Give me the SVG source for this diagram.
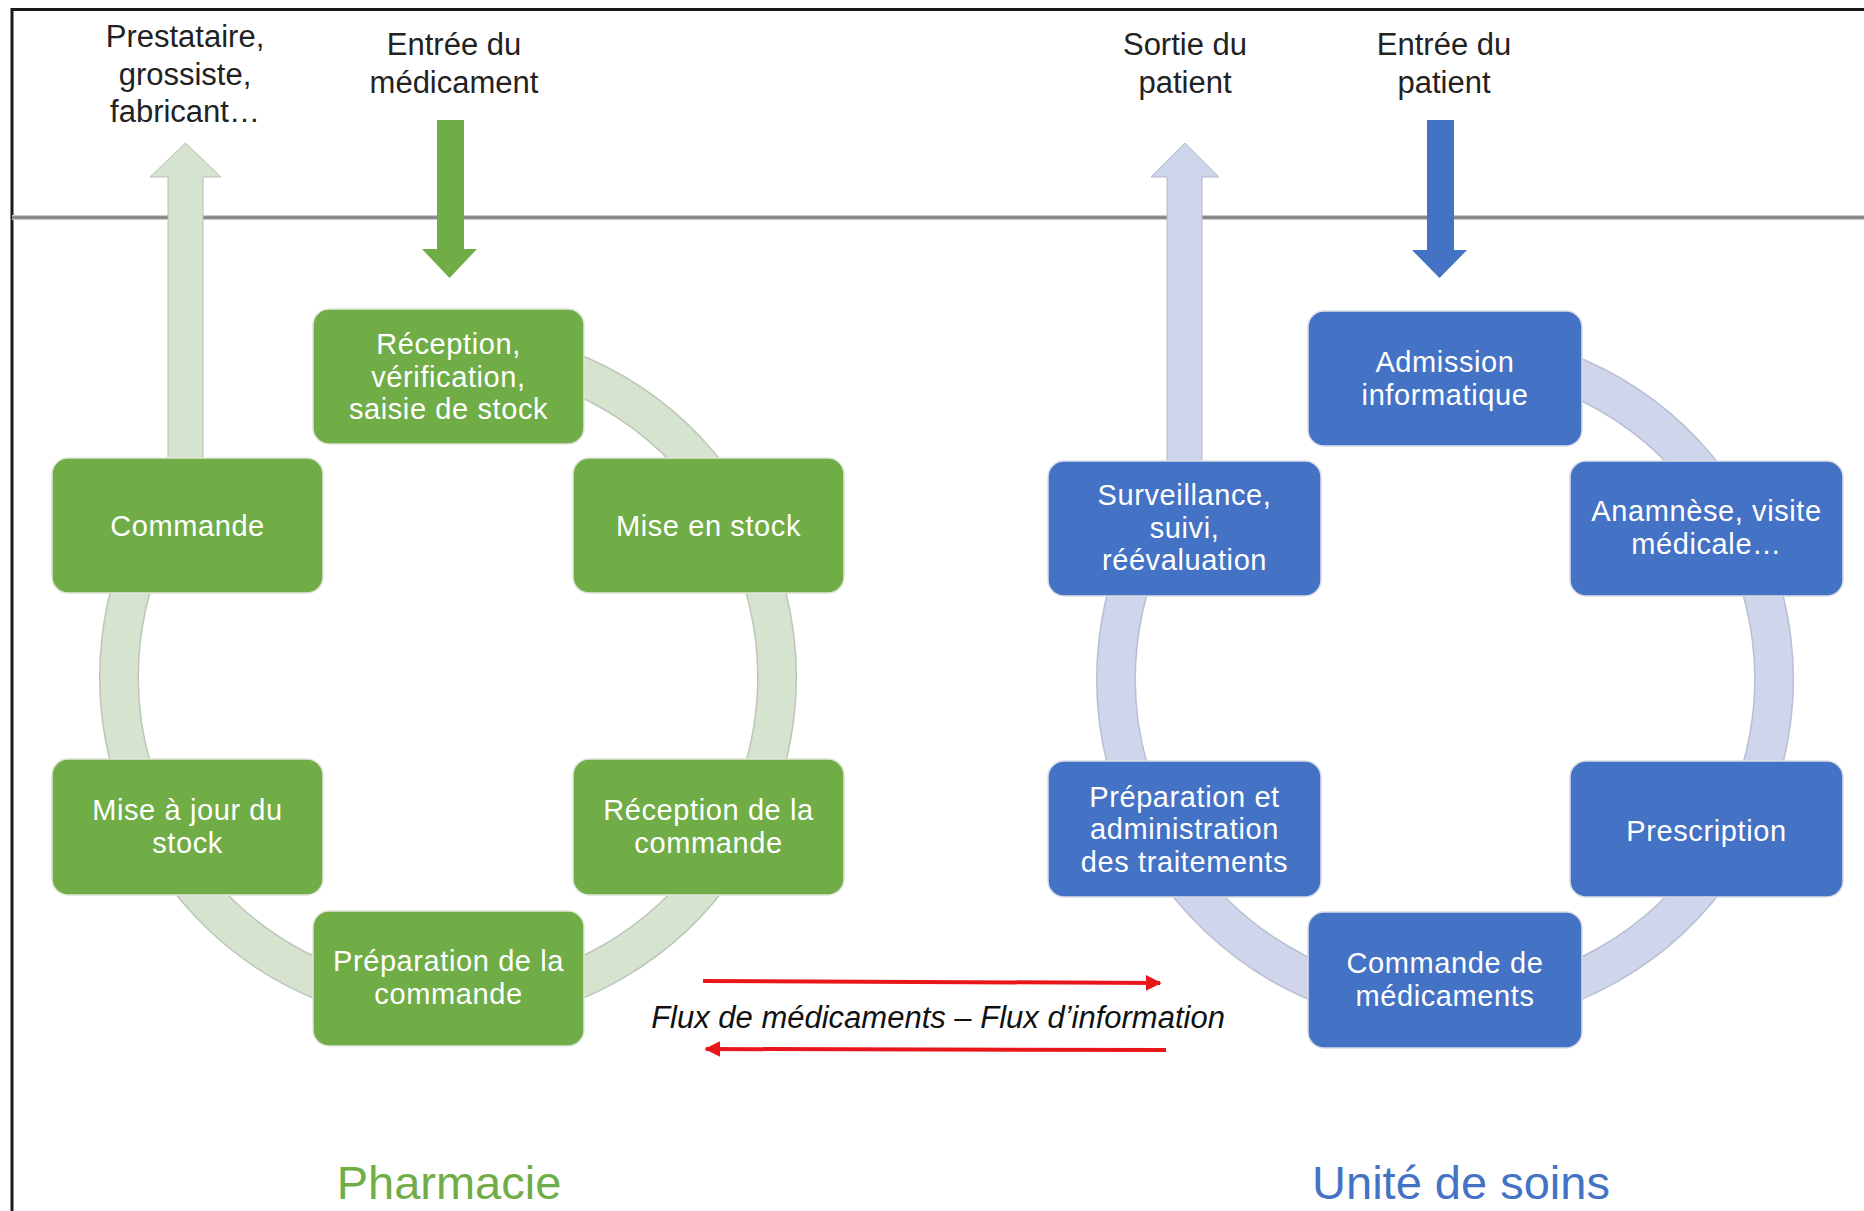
<svg xmlns="http://www.w3.org/2000/svg" width="1864" height="1211" viewBox="0 0 1864 1211">
<defs>
<style>
.lbl{font-family:"Liberation Sans",Arial,sans-serif;font-size:31px;fill:#222;text-anchor:middle}
.nt{font-family:"Liberation Sans",Arial,sans-serif;font-size:29px;letter-spacing:0.6px;fill:#fff;text-anchor:middle}
.gn{fill:#70ad47;stroke:#dfe6da;stroke-width:1.5}
.bn{fill:#4472c4;stroke:#d9dde8;stroke-width:1.5}
.ttl{font-family:"Liberation Sans",Arial,sans-serif;font-size:47px;text-anchor:middle}
.flux{font-family:"Liberation Sans",Arial,sans-serif;font-size:31px;font-style:italic;fill:#111;text-anchor:middle}
</style>
<marker id="rh" viewBox="0 0 10 10" refX="9" refY="5" markerWidth="4" markerHeight="4" orient="auto" markerUnits="strokeWidth">
<path d="M0,0 L10,5 L0,10 z" fill="#e8151b"/>
</marker>
</defs>
<rect width="1864" height="1211" fill="#fff"/>
<path d="M12,1211 V9.5 H1864" fill="none" stroke="#1a1a1a" stroke-width="3"/>
<line x1="12" y1="217.5" x2="1864" y2="217.5" stroke="#c8c8c8" stroke-width="5"/>
<line x1="12" y1="217.5" x2="1864" y2="217.5" stroke="#7f7f7f" stroke-width="2.5"/>

<g id="connectors">
<path d="M448,348 A329,329 0 1 1 163.1,512.5" fill="none" stroke="#bcc7b6" stroke-width="40"/>
<path d="M448,348 A329,329 0 1 1 163.1,512.5" fill="none" stroke="#d6e3cf" stroke-width="37"/>
<path d="M1445,350 A329,329 0 1 1 1160.1,514.5" fill="none" stroke="#b9bfd3" stroke-width="40"/>
<path d="M1445,350 A329,329 0 1 1 1160.1,514.5" fill="none" stroke="#cfd5ea" stroke-width="37"/>
<path d="M168,470 V177 H150 L185.5,143 L221,177 H203 V470 z" fill="#d6e3cf" stroke="#b5c1ae" stroke-width="1"/>
<path d="M1167,470 V177 H1151 L1185,143 L1219,177 H1202 V470 z" fill="#cfd5ea" stroke="#b1b8cd" stroke-width="1"/>
<path d="M437,120 H464 V249 H477 L449.5,278 L422,249 H437 z" fill="#70ad47"/>
<path d="M1427,120 H1454 V250 H1467 L1439.5,278 L1412,250 H1427 z" fill="#4472c4"/>
<line x1="703" y1="981" x2="1160" y2="983" stroke="#e8151b" stroke-width="4" marker-end="url(#rh)"/>
<line x1="1166" y1="1050" x2="706" y2="1049" stroke="#e8151b" stroke-width="4" marker-end="url(#rh)"/>
</g>

<g id="labels">
<text class="lbl" x="185" y="47"><tspan x="185" y="47">Prestataire,</tspan><tspan x="185" y="84.5">grossiste,</tspan><tspan x="185" y="122">fabricant…</tspan></text>
<text class="lbl" x="454" y="55"><tspan x="454" y="55">Entrée du</tspan><tspan x="454" y="92.5">médicament</tspan></text>
<text class="lbl" x="1185" y="55"><tspan x="1185" y="55">Sortie du</tspan><tspan x="1185" y="92.5">patient</tspan></text>
<text class="lbl" x="1444" y="55"><tspan x="1444" y="55">Entrée du</tspan><tspan x="1444" y="92.5">patient</tspan></text>
<text class="flux" x="938" y="1028">Flux de médicaments – Flux d’information</text>
<text class="ttl" x="449" y="1199" fill="#70ad47">Pharmacie</text>
<text class="ttl" x="1461" y="1199" fill="#4472c4">Unité de soins</text>
</g>

<g id="n-reception">
<rect class="gn" x="313" y="309" width="271" height="135" rx="16"/>
<text class="nt" x="448.5" y="354"><tspan x="448.5" y="354">Réception,</tspan><tspan x="448.5" y="386.5">vérification,</tspan><tspan x="448.5" y="419">saisie de stock</tspan></text>
</g>
<g id="n-commande">
<rect class="gn" x="52" y="458" width="271" height="135" rx="16"/>
<text class="nt" x="187.5" y="536">Commande</text>
</g>
<g id="n-mise-en-stock">
<rect class="gn" x="573" y="458" width="271" height="135" rx="16"/>
<text class="nt" x="708.5" y="536">Mise en stock</text>
</g>
<g id="n-mise-a-jour">
<rect class="gn" x="52" y="759" width="271" height="136" rx="16"/>
<text class="nt" x="187.5" y="820"><tspan x="187.5" y="820">Mise à jour du</tspan><tspan x="187.5" y="852.5">stock</tspan></text>
</g>
<g id="n-reception-commande">
<rect class="gn" x="573" y="759" width="271" height="136" rx="16"/>
<text class="nt" x="708.5" y="820"><tspan x="708.5" y="820">Réception de la</tspan><tspan x="708.5" y="852.5">commande</tspan></text>
</g>
<g id="n-preparation-commande">
<rect class="gn" x="313" y="911" width="271" height="135" rx="16"/>
<text class="nt" x="448.5" y="971"><tspan x="448.5" y="971">Préparation de la</tspan><tspan x="448.5" y="1003.5">commande</tspan></text>
</g>

<g id="n-admission">
<rect class="bn" x="1308" y="311" width="274" height="135" rx="16"/>
<text class="nt" x="1445" y="372"><tspan x="1445" y="372">Admission</tspan><tspan x="1445" y="404.5">informatique</tspan></text>
</g>
<g id="n-surveillance">
<rect class="bn" x="1048" y="461" width="273" height="135" rx="16"/>
<text class="nt" x="1184.5" y="505"><tspan x="1184.5" y="505">Surveillance,</tspan><tspan x="1184.5" y="537.5">suivi,</tspan><tspan x="1184.5" y="570">réévaluation</tspan></text>
</g>
<g id="n-anamnese">
<rect class="bn" x="1570" y="461" width="273" height="135" rx="16"/>
<text class="nt" x="1706.5" y="521"><tspan x="1706.5" y="521">Anamnèse, visite</tspan><tspan x="1706.5" y="553.5">médicale…</tspan></text>
</g>
<g id="n-preparation-administration">
<rect class="bn" x="1048" y="761" width="273" height="136" rx="16"/>
<text class="nt" x="1184.5" y="806.5"><tspan x="1184.5" y="806.5">Préparation et</tspan><tspan x="1184.5" y="839">administration</tspan><tspan x="1184.5" y="871.5">des traitements</tspan></text>
</g>
<g id="n-prescription">
<rect class="bn" x="1570" y="761" width="273" height="136" rx="16"/>
<text class="nt" x="1706.5" y="841">Prescription</text>
</g>
<g id="n-commande-medicaments">
<rect class="bn" x="1308" y="912" width="274" height="136" rx="16"/>
<text class="nt" x="1445" y="973"><tspan x="1445" y="973">Commande de</tspan><tspan x="1445" y="1005.5">médicaments</tspan></text>
</g>
</svg>
